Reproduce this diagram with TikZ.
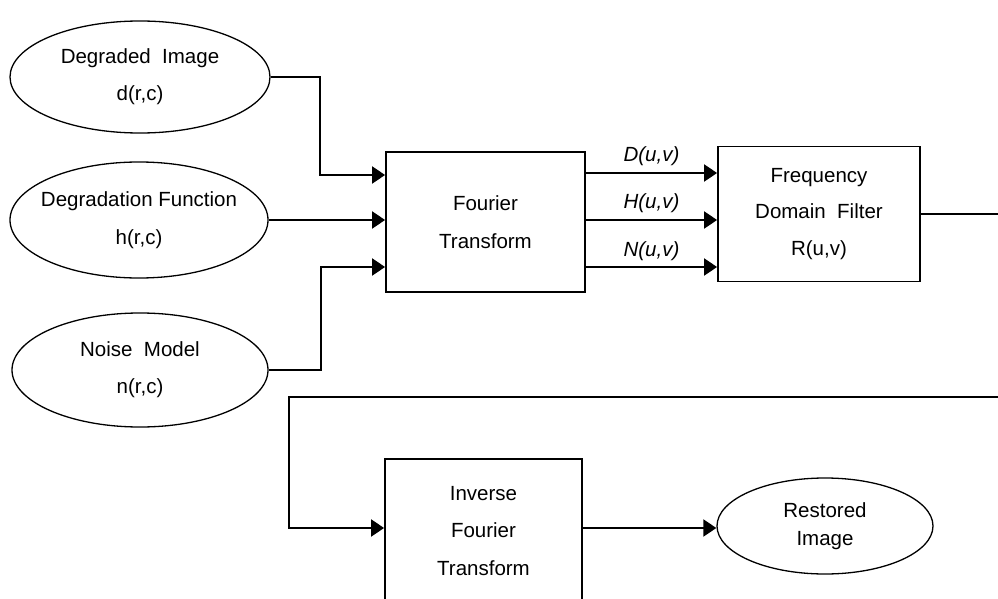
\documentclass[tikz,border=0pt]{standalone}
\usepackage{fontspec}
\setmainfont{Liberation Sans}
\usetikzlibrary{arrows.meta,shapes.geometric}
\begin{document}
\begin{tikzpicture}[x=1pt,y=-1pt,
  txt/.style={align=center, font=\fontsize{20.5}{37}\selectfont},
  oval/.style={ellipse, draw, line width=1.3pt, inner sep=0pt, txt},
  blockbox/.style={rectangle, draw, line width=1.8pt, inner sep=0pt, txt},
  wire/.style={line width=2pt},
  arr/.style={wire, -{Triangle[length=13pt,width=17pt]}},
  sig/.style={font=\fontsize{20.5}{24}\selectfont\itshape}]
\clip (0,0) rectangle (998,599);

% inputs in the spatial domain
\node[oval, minimum width=260pt, minimum height=112pt] (deg) at (140,77)
  {\makebox[0pt]{Degraded~ Image}\\d(r,c)};
\node[oval, minimum width=258pt, minimum height=116pt,
  font=\fontsize{20.5}{38}\selectfont] (degfn) at (139,220)
  {\makebox[0pt]{Degradation Function}\\h(r,c)};
\node[oval, minimum width=256pt, minimum height=114pt] (noise) at (140,370)
  {\makebox[0pt]{Noise~ Model}\\n(r,c)};

% processing blocks
\node[blockbox, minimum width=199pt, minimum height=140pt,
  font=\fontsize{20.5}{38}\selectfont] (ft) at (485.5,222) {Fourier\\Transform};
\node[blockbox, minimum width=202pt, minimum height=135pt,
  font=\fontsize{20.5}{36.5}\selectfont] (fdf) at (819,214) {Frequency\\Domain~ Filter\\R(u,v)};
\node[blockbox, minimum width=197pt, minimum height=144pt,
  font=\fontsize{20.5}{37.5}\selectfont] (ift) at (483.5,531) {Inverse\\Fourier\\Transform};
\node[oval, minimum width=216pt, minimum height=96pt,
  font=\fontsize{20.5}{28}\selectfont] (rest) at (825,526) {Restored\\Image};

% elbow points and off-page ends
\coordinate (bend1) at (320,175);
\coordinate (bend3) at (321,267);
\coordinate (outR) at (998,218);
\coordinate (fbR) at (998,397);
\coordinate (fbL) at (289,397);

% into the Fourier transform
\draw[arr] (deg.east) -| (bend1) -- (bend1 -| ft.west);
\draw[arr] (degfn.east) -- (degfn.east -| ft.west);
\draw[arr] (noise.east) -| (bend3) -- (bend3 -| ft.west);

% spectra into the filter
\coordinate (oD) at ([yshift=49pt]ft.east);
\coordinate (oH) at ([yshift=2pt]ft.east);
\coordinate (oN) at ([yshift=-45pt]ft.east);
\draw[arr] (oD) -- (oD -| fdf.west) node[midway, sig, yshift=17pt] {D(u,v)};
\draw[arr] (oH) -- (oH -| fdf.west) node[midway, sig, yshift=17pt] {H(u,v)};
\draw[arr] (oN) -- (oN -| fdf.west) node[midway, sig, yshift=16pt] {N(u,v)};

% filter output and return path
\draw[wire] (fdf.east) -- (fdf.east -| outR);
\draw[arr] (fbR) -- (fbL) |- ([yshift=3pt]ift.west);
\draw[arr] ([yshift=3pt]ift.east) -- ([yshift=3pt]ift.east -| rest.west);
\end{tikzpicture}
\end{document}
